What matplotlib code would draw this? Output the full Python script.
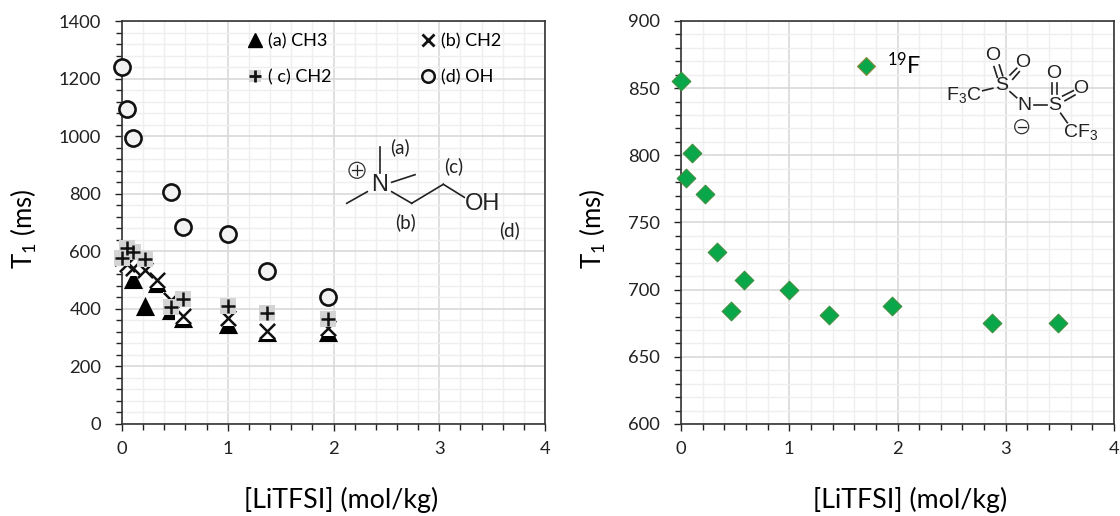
# T1 relaxation vs LiTFSI concentration, 1H (left) and 19F (right)

import matplotlib
matplotlib.use('Agg')
import matplotlib.pyplot as plt
from matplotlib.legend_handler import HandlerTuple
from matplotlib.lines import Line2D
from matplotlib.patches import Ellipse
from matplotlib.ticker import MultipleLocator

plt.rcParams['font.family'] = ['Lato', 'DejaVu Sans']
plt.rcParams['mathtext.default'] = 'regular'

W, H = 1120, 516

# data
conc_ch3 = [0.1, 0.22, 0.33, 0.46, 0.58, 1.0, 1.37, 1.95]
t1_ch3 = [503, 411, 490, 395, 368, 348, 318, 318]
conc_ch2b = [0.0, 0.05, 0.1, 0.22, 0.33, 0.46, 0.58, 1.0, 1.37, 1.95]
t1_ch2b = [575, 555, 543, 535, 500, 430, 376, 368, 323, 333]
conc_ch2c = [0.0, 0.05, 0.1, 0.22, 0.46, 0.58, 1.0, 1.37, 1.95]
t1_ch2c = [575, 610, 596, 572, 405, 434, 410, 384, 365]
conc_oh = [0.0, 0.05, 0.1, 0.46, 0.58, 1.0, 1.37, 1.95]
t1_oh = [1240, 1095, 993, 805, 685, 660, 532, 440]

conc_f = [0.0, 0.05, 0.1, 0.22, 0.33, 0.46, 0.58, 1.0, 1.37, 1.95, 2.87, 3.48]
t1_f = [855, 783, 802, 771, 728, 684, 707, 700, 681, 688, 675, 675]


def box(x0, y0, x1, y1):
    return [x0 / W, 1 - y1 / H, (x1 - x0) / W, (y1 - y0) / H]


def fx(x):
    return x / W


def fy(y):
    return 1 - y / H


def bond(fig, x0, y0, x1, y1, lw=1.2):
    fig.add_artist(Line2D([fx(x0), fx(x1)], [fy(y0), fy(y1)], color='#222222', lw=lw))


def ring(fig, x, y, r):
    fig.add_artist(Ellipse((fx(x), fy(y)), 2 * r / W, 2 * r / H, fill=False, ec='#333333', lw=0.9))


def label(fig, x, y, s, size=13.5, family='Lato', ha='center'):
    fig.text(fx(x), fy(y), s, fontsize=size, family=family, color='#222222', ha=ha, va='center')


def setup(ax, ymin, ymax, ymajor, yminor):
    ax.set_xlim(0, 4)
    ax.set_ylim(ymin, ymax)
    ax.xaxis.set_major_locator(MultipleLocator(1))
    ax.xaxis.set_minor_locator(MultipleLocator(0.2))
    ax.yaxis.set_major_locator(MultipleLocator(ymajor))
    ax.yaxis.set_minor_locator(MultipleLocator(yminor))
    ax.grid(which='major', color='#d9d9d9', lw=1.2)
    ax.grid(which='minor', color='#efefef', lw=1.0)
    ax.set_axisbelow(True)
    ax.tick_params(which='major', length=5, width=1, labelsize=13.2, color='#222222', labelcolor='#222222')
    ax.tick_params(axis='y', which='major', pad=10)
    ax.tick_params(axis='x', which='major', pad=7)
    ax.tick_params(which='minor', length=4, width=1, color='#222222')
    for s in ax.spines.values():
        s.set_color('#333333')
        s.set_linewidth(1.2)
    ax.set_xlabel('[LiTFSI] (mol/kg)', fontsize=19.3)
    ax.set_ylabel('T$_1$ (ms)', fontsize=18.5)


fig = plt.figure(figsize=(W / 100, H / 100), dpi=100)

# left panel
ax1 = fig.add_axes(box(122, 21, 545, 424))
setup(ax1, 0, 1400, 200, 40)
ax1.yaxis.set_label_coords(-0.197, 0.484)
ax1.xaxis.set_label_coords(0.518, -0.155)

ax1.scatter(conc_ch3, t1_ch3, marker='^', s=190, color='black', linewidths=0, zorder=3, clip_on=False)
ax1.scatter(conc_ch2b, t1_ch2b, marker='s', s=120, color='white', linewidths=0, zorder=3.1, clip_on=False)
ax1.scatter(conc_ch2b, t1_ch2b, marker='x', s=120, color='#111111', linewidths=1.8, zorder=3.2, clip_on=False)
ax1.scatter(conc_ch2c, t1_ch2c, marker='s', s=130, color='#d4d4d4', linewidths=0, zorder=3.3, clip_on=False)
ax1.scatter(conc_ch2c, t1_ch2c, marker='+', s=110, color='#111111', linewidths=1.8, zorder=3.4, clip_on=False)
ax1.scatter(conc_oh, t1_oh, marker='o', s=135, facecolor='#f2f2f2', edgecolor='#111111', linewidths=1.9,
            zorder=3.5, clip_on=False)

key_a = Line2D([], [], ls='', marker='^', ms=10, color='black')
key_c_bg = Line2D([], [], ls='', marker='s', ms=9, mew=0, color='#d4d4d4')
key_c = Line2D([], [], ls='', marker='+', ms=8, mew=2, color='#111111')
key_b = Line2D([], [], ls='', marker='x', ms=8, mew=2, color='#111111')
key_d = Line2D([], [], ls='', marker='o', ms=9, mfc='#f2f2f2', mec='#111111', mew=1.8)
ax1.legend([key_a, (key_c_bg, key_c), key_b, key_d], ['(a) CH3', '( c) CH2', '(b) CH2', '(d) OH'],
           handler_map={tuple: HandlerTuple(ndivide=1, pad=0)}, ncol=2, frameon=False, fontsize=13,
           loc='upper left', bbox_to_anchor=(0.277, 0.995), handlelength=0.7, handletextpad=0.35,
           columnspacing=5.0, labelspacing=1.12, borderaxespad=0.15)

# choline structure
bond(fig, 379.7, 147.3, 379.7, 172.7)
bond(fig, 391.7, 182.3, 415, 174.7)
bond(fig, 346.7, 203.3, 367.3, 191.7)
bond(fig, 391.7, 191.7, 411.7, 203.3)
bond(fig, 411.7, 203.3, 443.3, 184.3)
bond(fig, 443.3, 184.3, 464.3, 197.3)
label(fig, 379.5, 185, 'N', 17, 'Liberation Sans')
label(fig, 482.5, 203.5, 'OH', 17, 'Liberation Sans')
ring(fig, 357, 170.3, 8)
bond(fig, 352, 170.3, 362, 170.3, 0.9)
bond(fig, 357, 165.3, 357, 175.3, 0.9)
label(fig, 400, 147, '(a)')
label(fig, 454, 166, '(c)')
label(fig, 405, 222, '(b)')
label(fig, 509, 230, '(d)')

# right panel
ax2 = fig.add_axes(box(681, 21, 1114, 424))
setup(ax2, 600, 900, 50, 10)
ax2.yaxis.set_label_coords(-0.168, 0.484)
ax2.xaxis.set_label_coords(0.529, -0.155)

ax2.scatter(conc_f, t1_f, marker='D', s=90, color='#0aa64a', edgecolor='#3f8f3f', linewidths=0.8,
            zorder=3, clip_on=False)

key_f = Line2D([], [], ls='', marker='D', ms=9.5, mfc='#0aa64a', mec='#8a8a3a', mew=0.8, label='$^{19}$F')
ax2.legend(handles=[key_f], frameon=False, fontsize=17, loc='upper left', bbox_to_anchor=(0.384, 0.947),
           handlelength=0.8, handletextpad=0.5, borderaxespad=0)

# TFSI structure
chem = 'Liberation Sans'
label(fig, 992.7, 56, 'O', 14, chem)
label(fig, 1022.7, 62.3, 'O', 14, chem)
label(fig, 1001.7, 85, 'S', 14, chem)
label(fig, 963.5, 95, 'F$_3$C', 14, chem)
label(fig, 1024.3, 106, 'N', 14, chem)
label(fig, 1055, 105, 'S', 14, chem)
label(fig, 1053.7, 74, 'O', 14, chem)
label(fig, 1081, 88.3, 'O', 14, chem)
label(fig, 1081, 131.7, 'CF$_3$', 14, chem)
ring(fig, 1021.7, 126.7, 7)
bond(fig, 1017.5, 126.7, 1026, 126.7, 0.9)
bond(fig, 982.7, 90.7, 992.7, 88.3)
bond(fig, 1010, 91.7, 1016.7, 97.7)
bond(fig, 1034, 105, 1046.7, 105)
bond(fig, 1060.7, 113.3, 1067.3, 122.7)
bond(fig, 994, 66.7, 997.3, 77.3)
bond(fig, 999.3, 65, 1002.7, 75.7)
bond(fig, 1010, 75, 1016.7, 68.3)
bond(fig, 1012.7, 79.3, 1019.3, 71.7)
bond(fig, 1052, 83.3, 1052, 94)
bond(fig, 1056.7, 83.3, 1056.7, 94)
bond(fig, 1062.7, 96, 1073.3, 90.7)
bond(fig, 1065, 100.7, 1075, 95)

fig.savefig('out.png', dpi=100)
